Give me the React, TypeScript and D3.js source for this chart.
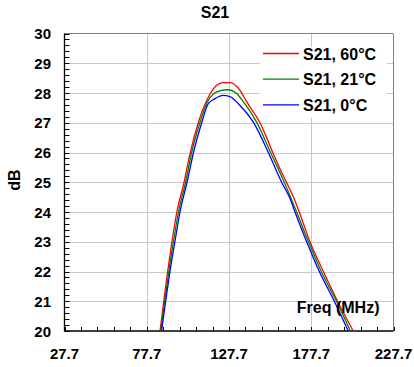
import React from "react";
import * as d3 from "d3";

const title = "S21";
const xTicks = [27.7, 77.7, 127.7, 177.7, 227.7];
const yTicks = [20, 21, 22, 23, 24, 25, 26, 27, 28, 29, 30];

const red60Freq = [85.8, 88.0, 90.4, 93.0, 96.0, 100.3, 104.0, 109.0, 116.0, 120.0, 124.0, 128.4, 134.4, 138.5, 146.5, 150.6, 154.3, 158.7, 162.8, 167.8, 172.0, 176.9, 185.0, 194.1, 202.9];
const red60dB = [20.0, 21.0, 22.0, 23.0, 24.0, 24.98, 25.96, 27.0, 27.95, 28.25, 28.35, 28.35, 28.09, 27.7, 27.0, 26.5, 26.0, 25.45, 24.98, 24.38, 23.75, 23.0, 22.01, 20.96, 20.03];

const green21Freq = [86.2, 88.6, 91.1, 93.9, 97.0, 101.3, 105.0, 110.0, 114.5, 118.5, 122.5, 127.0, 132.0, 136.5, 144.5, 153.0, 161.3, 168.8, 176.0, 183.8, 193.0, 201.5];
const green21dB = [20, 21, 22, 23, 24, 25, 26, 27, 27.7, 27.98, 28.08, 28.11, 28.0, 27.7, 27.02, 26.0, 25.0, 24.0, 23.0, 22.0, 21.0, 20.0];

const blue0Freq = [86.7, 89.2, 91.8, 94.8, 97.9, 102.2, 106.1, 111.1, 115.1, 119.2, 124.0, 128.3, 133.4, 142.5, 151.6, 159.7, 164.8, 167.8, 174.9, 182.6, 191.7, 200.2];
const blue0dB = [20, 21, 22, 23, 24, 25, 26, 27, 27.64, 27.81, 27.92, 27.88, 27.64, 27.02, 26.0, 25.0, 24.45, 24.0, 23.0, 22.0, 21.0, 20.0];

const seriesNames = ["S21, 60°C", "S21, 21°C", "S21, 0°C"];
const seriesColors = ["#ff0000", "#008000", "#0000ff"];

const FONT = "'Liberation Sans', Arial, Helvetica, sans-serif";

export default function App() {
  const W = 414, H = 367;
  const L = 64.5, R = 393.5, T = 33.5, B = 331;
  const x = d3.scaleLinear().domain([27.7, 227.7]).range([L, R]);
  const y = d3.scaleLinear().domain([20, 30]).range([B, T]);

  const series = [
    { f: red60Freq, v: red60dB },
    { f: green21Freq, v: green21dB },
    { f: blue0Freq, v: blue0dB },
  ].map((s, i) => ({
    name: seriesNames[i],
    color: seriesColors[i],
    pts: s.f.map((f, j) => [f, s.v[j]] as [number, number]),
  }));

  const line = d3
    .line<[number, number]>()
    .x((d) => x(d[0]))
    .y((d) => y(d[1]))
    .curve(d3.curveMonotoneX);

  const minorX = d3.range(0, 21).map((i) => 27.7 + i * 10);
  const minorY = d3.range(0, 51).map((i) => 20 + i * 0.2);
  const grid = "#c8c8c8";

  return (
    <svg
      width={W}
      height={H}
      style={{ position: "absolute", left: 0, top: 0, background: "#fff" }}
      fontFamily={FONT}
      fontWeight="bold"
    >
      <defs>
        <clipPath id="plotclip">
          <rect x={L} y={T} width={R - L} height={B - T} />
        </clipPath>
      </defs>
      {yTicks.slice(1, -1).map((t) => (
        <line key={"gy" + t} x1={L} x2={R} y1={Math.round(y(t)) + 0.5} y2={Math.round(y(t)) + 0.5} stroke={grid} strokeWidth={1} />
      ))}
      {xTicks.slice(1, -1).map((t) => (
        <line key={"gx" + t} x1={Math.round(x(t)) + 0.5} x2={Math.round(x(t)) + 0.5} y1={T} y2={B} stroke={grid} strokeWidth={1} />
      ))}
      <rect x={260} y={47} width={127} height={71} fill="#fff" />
      <line x1={L} x2={R} y1={T} y2={T} stroke="#808080" strokeWidth={1} />
      <line x1={R} x2={R} y1={T} y2={B} stroke="#808080" strokeWidth={1} />
      {minorY.map((t, i) => (
        <line key={"ty" + i} x1={L} x2={L + 5} y1={Math.round(y(t)) + 0.5} y2={Math.round(y(t)) + 0.5} stroke="#000" strokeWidth={1} />
      ))}
      {minorX.map((t, i) => (
        <line key={"tx" + i} x1={Math.round(x(t)) + 0.5} x2={Math.round(x(t)) + 0.5} y1={B} y2={B - 4} stroke="#000" strokeWidth={1} />
      ))}
      <line x1={L} x2={L} y1={T} y2={B + 0.5} stroke="#000" strokeWidth={1.3} />
      <line x1={L} x2={R} y1={B} y2={B} stroke="#000" strokeWidth={1.3} />
      <g clipPath="url(#plotclip)">
        {series.map((s) => (
          <path key={s.name} d={line(s.pts) || ""} fill="none" stroke={s.color} strokeWidth={1.3} />
        ))}
      </g>
      {yTicks.map((t) => (
        <text key={"ly" + t} x={51} y={y(t) + 5.5} textAnchor="end" fontSize={15}>
          {t}
        </text>
      ))}
      {xTicks.map((t) => (
        <text key={"lx" + t} x={x(t)} y={359} textAnchor="middle" fontSize={15}>
          {t.toFixed(1)}
        </text>
      ))}
      <text x={215} y={18} textAnchor="middle" fontSize={16}>
        {title}
      </text>
      <text transform="translate(19.5,180) rotate(-90)" textAnchor="middle" fontSize={16}>
        dB
      </text>
      <text x={379.5} y={313} textAnchor="end" fontSize={16}>
        Freq (MHz)
      </text>
      {series.map((s, i) => (
        <g key={"lg" + i}>
          <line x1={263} x2={299} y1={53.5 + i * 25.7} y2={53.5 + i * 25.7} stroke={s.color} strokeWidth={1.3} />
          <text x={303} y={53.5 + i * 25.7 + 6} fontSize={16}>
            {s.name}
          </text>
        </g>
      ))}
    </svg>
  );
}
